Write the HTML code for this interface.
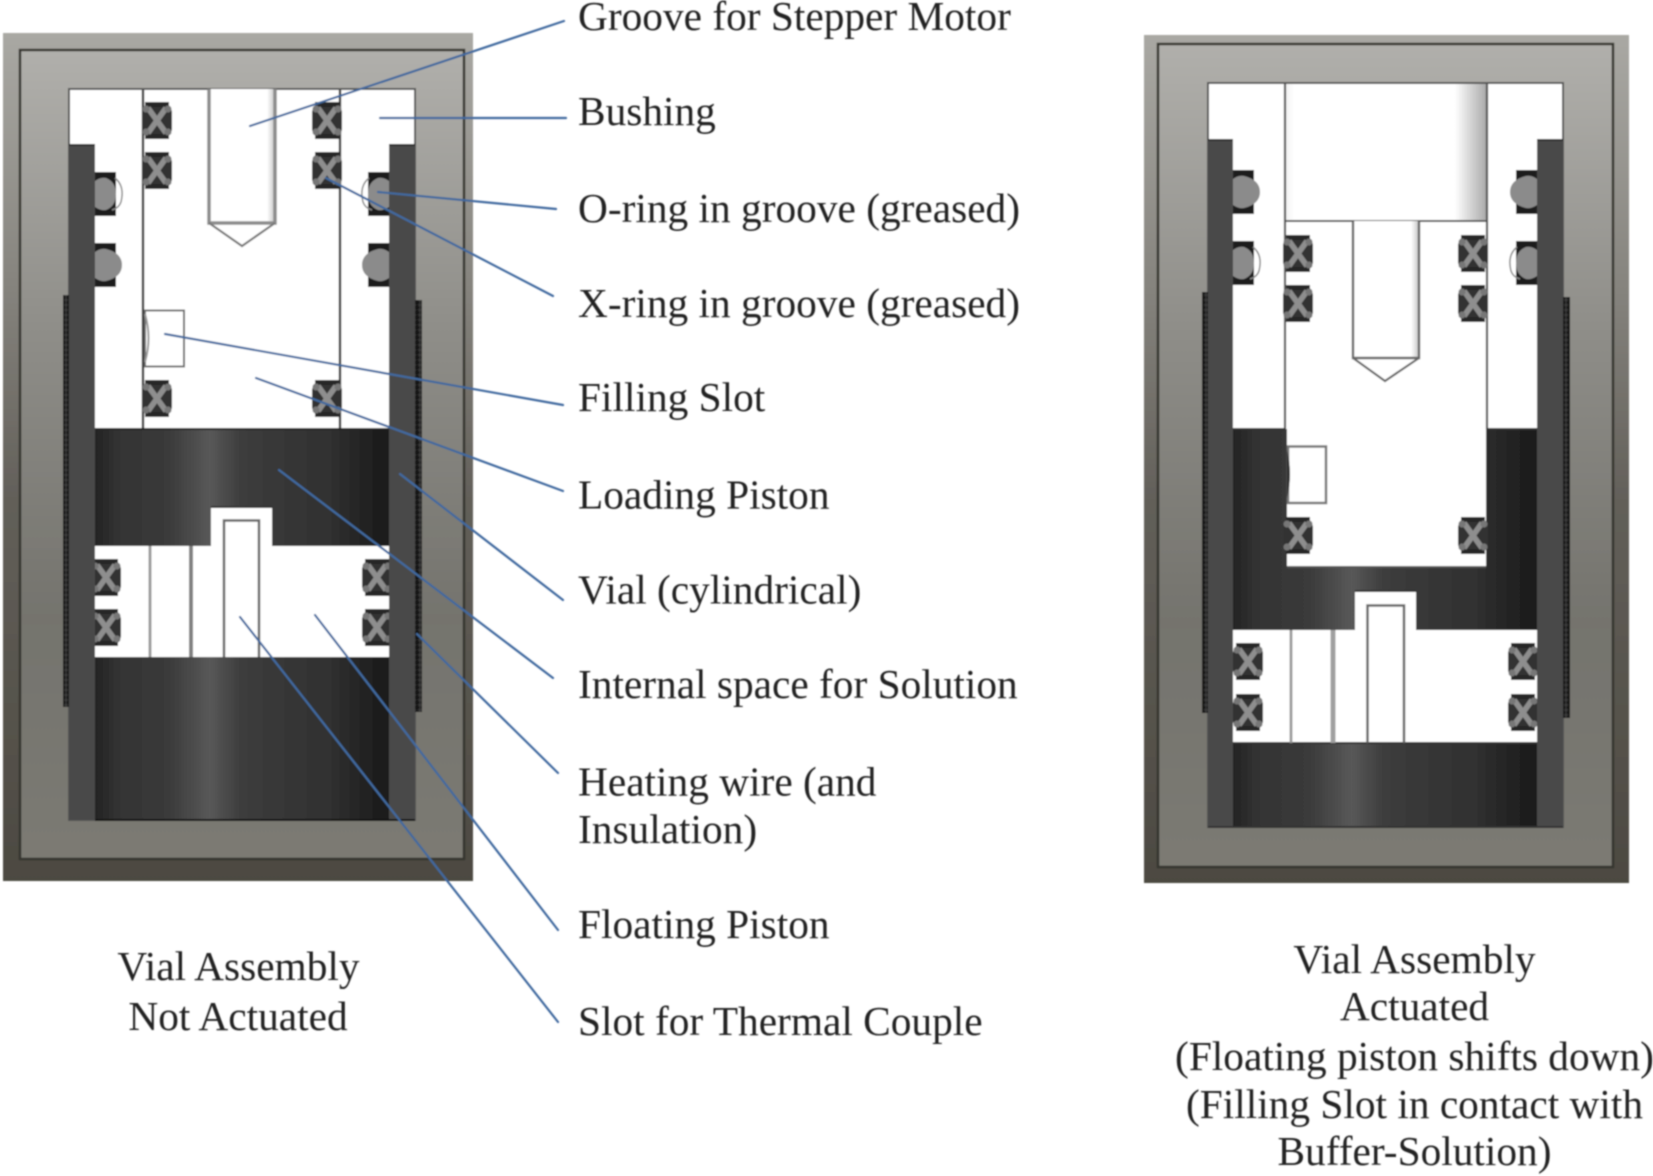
<!DOCTYPE html>
<html>
<head>
<meta charset="utf-8">
<style>
html,body{margin:0;padding:0;background:#fff;width:1653px;height:1176px;overflow:hidden}
svg{display:block}
text{font-family:"Liberation Serif",serif;font-size:41.35px;fill:#222}
</style>
</head>
<body>
<svg xmlns="http://www.w3.org/2000/svg" width="1653" height="1176" viewBox="0 0 1653 1176">
<defs>
<filter id="b" x="-2%" y="-2%" width="104%" height="104%"><feGaussianBlur stdDeviation="0.7"/></filter>
<linearGradient id="outer" x1="0" y1="0" x2="0" y2="1">
<stop offset="0" stop-color="#a9a8a3"/><stop offset=".3" stop-color="#85837d"/><stop offset=".55" stop-color="#625f59"/><stop offset="1" stop-color="#4c4941"/>
</linearGradient>
<linearGradient id="panel" x1="0" y1="0" x2="0" y2="1">
<stop offset="0" stop-color="#b0afab"/><stop offset=".35" stop-color="#8e8d88"/><stop offset=".7" stop-color="#74736d"/><stop offset="1" stop-color="#7b7a73"/>
</linearGradient>
<linearGradient id="pisL" gradientUnits="userSpaceOnUse" x1="95" y1="0" x2="389" y2="0">
<stop offset="0" stop-color="#232323"/><stop offset=".08" stop-color="#333"/><stop offset=".25" stop-color="#3a3a3a"/><stop offset=".39" stop-color="#585858"/><stop offset=".5" stop-color="#3c3c3c"/><stop offset=".8" stop-color="#303030"/><stop offset="1" stop-color="#191919"/>
</linearGradient>
<linearGradient id="pisR" gradientUnits="userSpaceOnUse" x1="1233" y1="0" x2="1537" y2="0">
<stop offset="0" stop-color="#232323"/><stop offset=".08" stop-color="#333"/><stop offset=".25" stop-color="#3a3a3a"/><stop offset=".39" stop-color="#585858"/><stop offset=".5" stop-color="#3c3c3c"/><stop offset=".8" stop-color="#303030"/><stop offset="1" stop-color="#191919"/>
</linearGradient>
<linearGradient id="bore" x1="0" y1="0" x2="1" y2="0">
<stop offset="0" stop-color="#fff"/><stop offset=".88" stop-color="#fff"/><stop offset="1" stop-color="#c4c4c4"/>
</linearGradient>
<linearGradient id="top2" x1="0" y1="0" x2="1" y2="0">
<stop offset="0" stop-color="#f2f2f2"/><stop offset=".04" stop-color="#fff"/><stop offset=".84" stop-color="#fff"/><stop offset="1" stop-color="#a8a8a8"/>
</linearGradient>
<g id="xr">
<rect x="3" y="0" width="24" height="37" fill="#262626"/>
<rect x="0" y="5" width="30" height="27" fill="#333" rx="5"/>
<path d="M6 6 L24 31 M24 6 L6 31" stroke="#8e8e8e" stroke-width="5.500" fill="none"/>
<circle cx="4" cy="7" r="3.500" fill="#777"/><circle cx="26" cy="7" r="3.500" fill="#777"/>
<circle cx="4" cy="30" r="3.500" fill="#777"/><circle cx="26" cy="30" r="3.500" fill="#777"/>
</g>
<g id="orA">
<rect x="0" y="0" width="21" height="44" fill="#1f1f1f"/>
<path d="M0 9 Q6 5 11 6 Q21 10 21 22 Q21 34 11 38 Q6 39 0 35Z" fill="#8b8b8b"/>
<path d="M20 6 Q30 14 26 30 Q24 36 17 38" fill="none" stroke="#888" stroke-width="1.500"/>
</g>
<g id="orB">
<rect x="0" y="0" width="21" height="44" fill="#1f1f1f"/>
<path d="M0 9 Q6 5 11 6 Q27 10 27 22 Q27 34 11 38 Q6 39 0 35Z" fill="#8b8b8b"/>
</g>
<pattern id="wire" width="6" height="5" patternUnits="userSpaceOnUse">
<rect width="6" height="5" fill="#3a3a3a"/>
<circle cx="3" cy="2.500" r="2.500" fill="#141414"/>
</pattern>
</defs>

<g filter="url(#b)">
<!-- LEFT ASSEMBLY -->
<rect x="3" y="33" width="470" height="848" fill="url(#outer)"/>
<rect x="20" y="50" width="444" height="809" fill="url(#panel)" stroke="#35342f" stroke-width="2.500"/>
<rect x="69" y="89" width="346" height="731" fill="#fff" stroke="#555" stroke-width="2"/>
<rect x="63" y="295" width="7" height="412" fill="url(#wire)"/>
<rect x="415" y="300" width="7" height="412" fill="url(#wire)"/>
<rect x="69" y="145" width="26" height="675" fill="#4a4a4a"/>
<rect x="389" y="145" width="26" height="675" fill="#4a4a4a"/>
<rect x="69" y="144" width="26" height="2" fill="#2a2a2a"/>
<rect x="389" y="144" width="26" height="2" fill="#2a2a2a"/>
<rect x="95" y="90" width="294" height="339" fill="#fff"/>
<rect x="70" y="90" width="344" height="54" fill="#fff"/>
<path d="M143 89V429M340 89V429" stroke="#333" stroke-width="2.400"/>
<path d="M69 89H415" stroke="#555" stroke-width="2"/>
<!-- bore -->
<rect x="209" y="89" width="66" height="134" fill="url(#bore)"/>
<path d="M209 89V223H275V89" fill="none" stroke="#8c8c8c" stroke-width="3.500"/>
<path d="M209 223L242 246L275 223" fill="none" stroke="#777" stroke-width="2.200"/>
<!-- filling slot -->
<rect x="145" y="310.500" width="39" height="56" fill="#fff" stroke="#6a6a6a" stroke-width="2"/>
<path d="M145 314Q152 338 145 362" fill="none" stroke="#999" stroke-width="2"/>
<!-- x rings upper -->
<use href="#xr" x="142" y="102"/><use href="#xr" x="142" y="152"/><use href="#xr" x="142" y="380"/>
<use href="#xr" x="312" y="102"/><use href="#xr" x="312" y="152"/><use href="#xr" x="312" y="380"/>
<!-- o rings -->
<use href="#orA" x="95" y="172"/><use href="#orB" x="95" y="243"/>
<use href="#orA" transform="translate(389,172) scale(-1,1)"/><use href="#orB" transform="translate(389,243) scale(-1,1)"/>
<!-- pistons -->
<path d="M95 429H389V546H272V507H211V546H95Z" fill="url(#pisL)"/>
<rect x="95" y="546" width="294" height="111" fill="#fff"/>
<rect x="95" y="657" width="294" height="163" fill="url(#pisL)"/>
<path d="M95 429H389" stroke="#222" stroke-width="2"/>
<path d="M95 820H415" stroke="#111" stroke-width="2"/>
<path d="M211 507H272" stroke="#333" stroke-width="2"/>
<path d="M150 546V657" stroke="#9c9c9c" stroke-width="3"/>
<path d="M191 546V657" stroke="#808080" stroke-width="4"/>
<path d="M224 657V520.500H259V657" fill="none" stroke="#666" stroke-width="2.500"/>
<use href="#xr" x="91" y="559"/><use href="#xr" x="91" y="609"/>
<use href="#xr" x="362" y="559"/><use href="#xr" x="362" y="609"/>
<rect x="69" y="545" width="26" height="120" fill="#4a4a4a"/>
<rect x="389" y="545" width="26" height="120" fill="#4a4a4a"/>

<!-- RIGHT ASSEMBLY -->
<rect x="1144" y="35" width="485" height="848" fill="url(#outer)"/>
<rect x="1158" y="44" width="455" height="823" fill="url(#panel)" stroke="#35342f" stroke-width="2.500"/>
<rect x="1208" y="83" width="355" height="744" fill="#fff" stroke="#555" stroke-width="2"/>
<rect x="1202" y="292" width="7" height="421" fill="url(#wire)"/>
<rect x="1563" y="297" width="7" height="421" fill="url(#wire)"/>
<rect x="1208" y="140" width="25" height="687" fill="#4a4a4a"/>
<rect x="1537" y="140" width="26" height="687" fill="#4a4a4a"/>
<rect x="1208" y="139" width="25" height="2" fill="#2a2a2a"/>
<rect x="1537" y="139" width="26" height="2" fill="#2a2a2a"/>
<rect x="1286" y="84" width="201" height="137" fill="url(#top2)"/>
<path d="M1285 83V429M1487 83V429" stroke="#555" stroke-width="2.200"/>
<path d="M1285 221H1487" stroke="#555" stroke-width="2"/>
<rect x="1353" y="221" width="66" height="137" fill="url(#bore)"/>
<path d="M1353 221V358H1419V221" fill="none" stroke="#666" stroke-width="2.400"/>
<path d="M1353 358L1385 381L1419 358" fill="none" stroke="#666" stroke-width="2.200"/>
<use href="#xr" x="1283" y="235"/><use href="#xr" x="1283" y="285"/>
<use href="#xr" x="1458" y="235"/><use href="#xr" x="1458" y="285"/>
<use href="#orB" x="1233" y="170"/><use href="#orA" x="1233" y="241"/>
<use href="#orB" transform="translate(1537,170) scale(-1,1)"/><use href="#orA" transform="translate(1537,241) scale(-1,1)"/>
<!-- actuated piston -->
<path d="M1233 429H1287V567H1486V429H1537V630H1416V591H1355V630H1233Z" fill="url(#pisR)"/>
<path d="M1233 429H1285M1487 429H1537" stroke="#333" stroke-width="2"/>
<path d="M1355 591H1416" stroke="#333" stroke-width="2"/>
<path d="M1287 567H1486" stroke="#555" stroke-width="2"/>
<rect x="1288" y="446.500" width="38" height="56.500" fill="#fff" stroke="#777" stroke-width="2.500"/>
<path d="M1287 450Q1293 474 1287 498" fill="#2d2d2d"/>
<use href="#xr" x="1283" y="517"/><use href="#xr" x="1458" y="517"/>
<rect x="1233" y="630" width="304" height="113" fill="#fff"/>
<rect x="1233" y="743" width="304" height="84" fill="url(#pisR)"/>
<path d="M1233 743H1537" stroke="#333" stroke-width="2"/>
<path d="M1208 827H1563" stroke="#333" stroke-width="2"/>
<path d="M1291 630V743" stroke="#999" stroke-width="2.800"/>
<path d="M1333 630V743" stroke="#a0a0a0" stroke-width="5"/>
<path d="M1367.500 743V605.500H1404V743" fill="none" stroke="#666" stroke-width="2.500"/>
<use href="#xr" x="1233" y="643"/><use href="#xr" x="1233" y="694"/>
<use href="#xr" x="1508" y="643"/><use href="#xr" x="1508" y="694"/>
<rect x="1208" y="630" width="25" height="113" fill="#4a4a4a"/>
<rect x="1537" y="630" width="26" height="113" fill="#4a4a4a"/>

<!-- LEADERS -->
<g stroke="#41699f" stroke-width="2.200" fill="none" stroke-linecap="round">
<path d="M250 126L564 21"/>
<path d="M380 118L566 118"/>
<path d="M378 192L556 209"/>
<path d="M326 178L553 296"/>
<path d="M165 334L563 405"/>
<path d="M256 378L563 491"/>
<path d="M400 474L563 600"/>
<path d="M279 470L553 678"/>
<path d="M417 634L558 773"/>
<path d="M315 615L558 930"/>
<path d="M240 617L558 1022"/>
</g>

<!-- TEXT -->
<text x="578" y="30">Groove for Stepper Motor</text>
<text x="578" y="125">Bushing</text>
<text x="578" y="222">O-ring in groove (greased)</text>
<text x="578" y="317">X-ring in groove (greased)</text>
<text x="578" y="411">Filling Slot</text>
<text x="578" y="508.500">Loading Piston</text>
<text x="578" y="603.500">Vial (cylindrical)</text>
<text x="578" y="698">Internal space for Solution</text>
<text x="578" y="795.500">Heating wire (and</text>
<text x="578" y="843">Insulation)</text>
<text x="578" y="938">Floating Piston</text>
<text x="578" y="1035">Slot for Thermal Couple</text>
<g text-anchor="middle">
<text x="238.500" y="980">Vial Assembly</text>
<text x="238" y="1030">Not Actuated</text>
<text x="1414.500" y="973">Vial Assembly</text>
<text x="1414.500" y="1020">Actuated</text>
<text x="1414.500" y="1070">(Floating piston shifts down)</text>
<text x="1414.500" y="1118">(Filling Slot in contact with</text>
<text x="1414.500" y="1165">Buffer-Solution)</text>
</g>
</g>
</svg>
</body>
</html>
